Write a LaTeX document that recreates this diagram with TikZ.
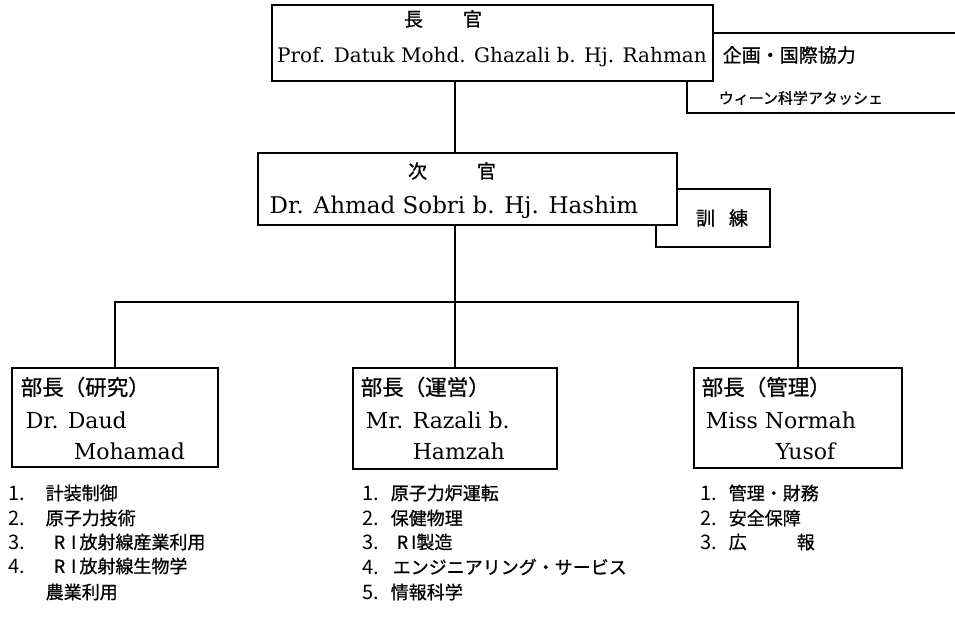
\documentclass[tikz,border=0pt]{standalone}
\usepackage{fontspec}
\setmainfont{DejaVu Serif}
\newfontfamily\jp[FakeBold=0.8]{Noto Sans CJK JP}
\newfontfamily\jpnum{Noto Sans CJK JP}
\begin{document}
\begin{tikzpicture}[x=1pt,y=-1pt,
  line width=1.5pt,
  box/.style={draw,fill=white,inner sep=0pt,line width=1.5pt},
  jtxt/.style={inner sep=0pt,font=\jp\fontsize{19}{19}\selectfont},
  ltxt/.style={inner sep=0pt,font=\fontsize{20}{20}\selectfont},
  ntxt/.style={inner sep=0pt,anchor=west,font=\fontsize{22}{22}\selectfont},
  htxt/.style={inner sep=0pt,anchor=west,font=\jp\fontsize{21.5}{21.5}\selectfont},
  item/.style={inner sep=0pt,anchor=west,font=\jp\fontsize{18}{18}\selectfont},
  num/.style={inner sep=0pt,anchor=west,font=\jpnum\fontsize{20}{20}\selectfont}]
\useasboundingbox (0,0) rectangle (955,635);
% side boxes (behind)
\draw (955,33) -| (687,113) -- (955,113);
\draw (656,189) rectangle (770,247);
% main boxes
\node[box,minimum width=441,minimum height=76] (chief) at (492.5,43) {};
\node[box,minimum width=419,minimum height=72] (dep) at (467.5,189) {};
\node[box,minimum width=206,minimum height=99] (res) at (115,417.5) {};
\node[box,minimum width=204,minimum height=101] (ops) at (455,418.5) {};
\node[box,minimum width=208,minimum height=100] (adm) at (798,418) {};
% texts in boxes
\node[jtxt] (chiefT) at (443,19) {長\hspace{40pt}官};
\node[ltxt] (chiefN) at (492,57) {Prof. Datuk Mohd. Ghazali b. Hj. Rahman};
\node[jtxt,anchor=west] (plan1) at (722,55) {企画・国際協力};
\node[jtxt,anchor=west,font=\jp\fontsize{15}{15}\selectfont] (plan2) at (718,98) {ウィーン科学アタッシェ};
\node[jtxt] (depT) at (452,171) {次\hspace{50pt}官};
\node[ltxt,font=\fontsize{23}{23}\selectfont] (depN) at (454,207) {Dr. Ahmad Sobri b. Hj. Hashim};
\node[jtxt] (train) at (722,218) {訓\hspace{14pt}練};
\node[htxt] (resT) at (20,387) {部長（研究）};
\node[ntxt] (resN1) at (25,420) {Dr. Daud};
\node[ntxt] (resN2) at (73,451) {Mohamad};
\node[htxt] (opsT) at (360,387) {部長（運営）};
\node[ntxt] (opsN1) at (365,420) {Mr. Razali b.};
\node[ntxt] (opsN2) at (412,451) {Hamzah};
\node[htxt] (admT) at (701,387) {部長（管理）};
\node[ntxt] (admN1) at (705,420) {Miss Normah};
\node[ntxt] (admN2) at (775,451) {Yusof};
% connectors
\coordinate (bus) at (455,302);
\draw (chief.south -| dep.north) ++(-12.5,0) coordinate (c1) -- (c1 |- dep.north);
\draw (455,225) coordinate (c2) -- (bus);
\draw (res.north) |- (bus);
\draw (bus) -| (adm.north);
\draw (bus) -- (ops.north);
% lists
\node[num] (r1n) at (8,493) {1.}; \node[item] (r1) at (45,493) {計装制御};
\node[num] (r2n) at (8,518) {2.}; \node[item] (r2) at (45,518) {原子力技術};
\node[num] (r3n) at (8,542) {3.}; \node[item] (r3) at (53,542) {R\,\,I\,放射線産業利用};
\node[num] (r4n) at (8,566) {4.}; \node[item] (r4) at (53,566) {R\,\,I\,放射線生物学};
\node[item] (r5) at (45,592) {農業利用};
\node[num] (o1n) at (362,493) {1.}; \node[item] (o1) at (390,493) {原子力炉運転};
\node[num] (o2n) at (362,518) {2.}; \node[item] (o2) at (390,518) {保健物理};
\node[num] (o3n) at (362,542) {3.}; \node[item] (o3) at (396,542) {R\,I製造};
\node[num] (o4n) at (362,567) {4.}; \node[item] (o4) at (392,567) {エンジニアリング・サービス};
\node[num] (o5n) at (362,592) {5.}; \node[item] (o5) at (390,592) {情報科学};
\node[num] (a1n) at (700,493) {1.}; \node[item] (a1) at (728,493) {管理・財務};
\node[num] (a2n) at (700,518) {2.}; \node[item] (a2) at (728,518) {安全保障};
\node[num] (a3n) at (700,542) {3.}; \node[item] (a3) at (728,542) {広\hspace{50pt}報};
\end{tikzpicture}
\end{document}
